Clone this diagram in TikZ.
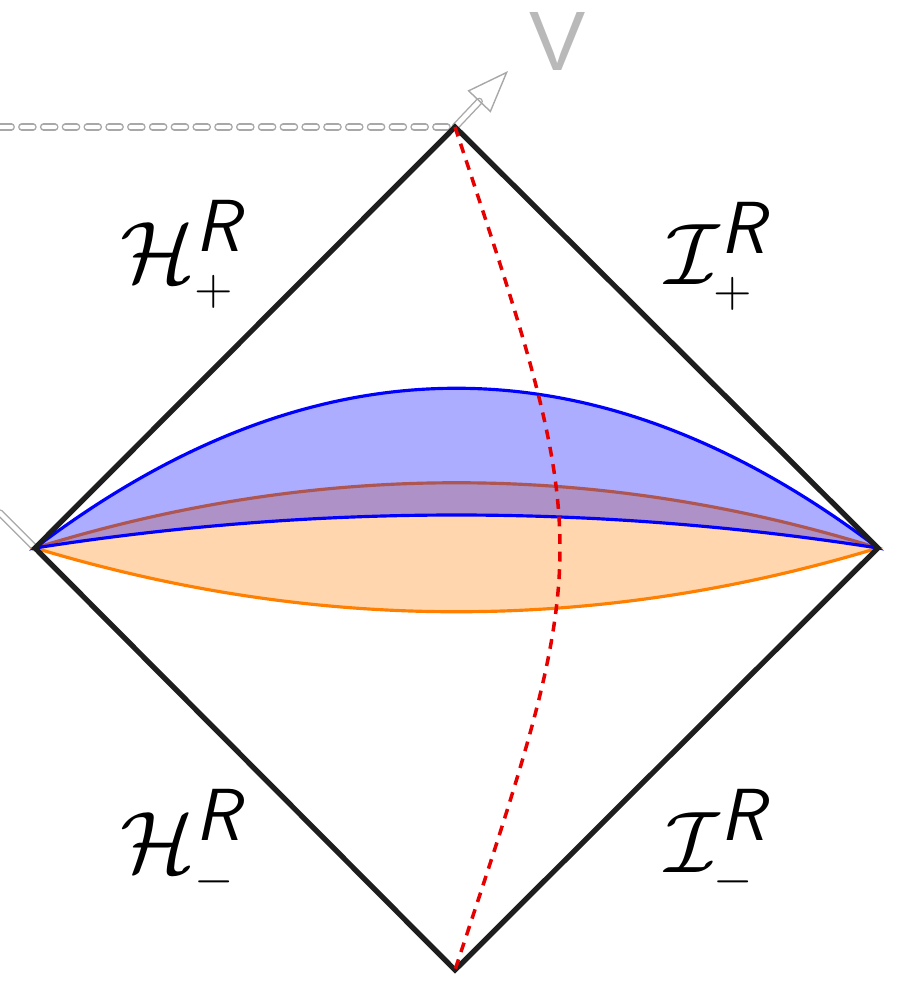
\documentclass[tikz,border=0pt]{standalone}
\usepackage{amsmath,amssymb}
\usepackage{fontspec}
\usetikzlibrary{arrows.meta}
\newfontfamily\axisfont{Liberation Sans}
\definecolor{dgray}{HTML}{1E1E1E}
\definecolor{axisgray}{HTML}{A8A8A8}
\definecolor{sblue}{HTML}{0000FF}
\definecolor{sorange}{HTML}{FF8000}
\definecolor{sred}{HTML}{E60000}
\tikzset{
  >=Latex,
  edge/.style={draw=dgray, line width=1.5pt, line join=miter},
  axisline/.style={draw=axisgray, line width=0.4pt, double=white, double distance=1.3pt, line cap=round},
  region/.style={draw=#1, line width=0.9pt, fill=#1, fill opacity=0.32},
  horizon/.style={draw=sred, line width=1pt, dash pattern=on 2.8pt off 2.2pt},
  lab/.style={font=\fontsize{30}{32}\selectfont, inner sep=0pt}
}
\newcommand{\supR}{\textsf{\textit{R}}}
\begin{document}
\begin{tikzpicture}
  \useasboundingbox (0,0) rectangle (9.08,-9.81);
  % corners of the diamond
  \coordinate (top) at (4.55,-1.27);
  \coordinate (left) at (0.35,-5.48);
  \coordinate (right) at (8.78,-5.48);
  \coordinate (bottom) at (4.55,-9.70);
  % leftover axes
  \coordinate (vleft) at (0,-1.27);
  \coordinate (vend) at (5.08,-0.71);
  \coordinate (uend) at (0,-5.13);
  \draw[axisline, dash pattern=on 3.2pt off 3pt] (vleft) -- (top);
  \draw[axisline] (left) -- (uend);
  \draw[axisline, -{Triangle[open, length=12pt, width=9pt]}] (top) -- (vend);
  \node[text=axisgray!80, font=\axisfont\fontsize{24}{24}\selectfont] (vlab) at (5.58,-0.41) {V};
  % slices
  \path[region=sorange] (left) .. controls (3.16,-4.61) and (5.97,-4.61) .. (right)
    .. controls (5.97,-6.33) and (3.16,-6.33) .. (left) -- cycle;
  \path[region=sblue] (left) .. controls (3.16,-3.35) and (5.97,-3.35) .. (right)
    .. controls (5.97,-5.04) and (3.16,-5.04) .. (left) -- cycle;
  % diamond
  \draw[edge] (top) -- (right) -- (bottom) -- (left) -- cycle;
  % constant radius curve
  \draw[horizon] (top) .. controls (5.95,-5.48) .. (bottom);
  % labels
  \node[lab] (hplus) at (1.84,-2.54) {$\mathcal{H}^{\supR}_{\scriptscriptstyle +}$};
  \node[lab] (iplus) at (7.19,-2.56) {$\mathcal{I}^{\supR}_{\scriptscriptstyle +}$};
  \node[lab] (hminus) at (1.84,-8.44) {$\mathcal{H}^{\supR}_{\scriptscriptstyle -}$};
  \node[lab] (iminus) at (7.19,-8.44) {$\mathcal{I}^{\supR}_{\scriptscriptstyle -}$};
\end{tikzpicture}
\end{document}
